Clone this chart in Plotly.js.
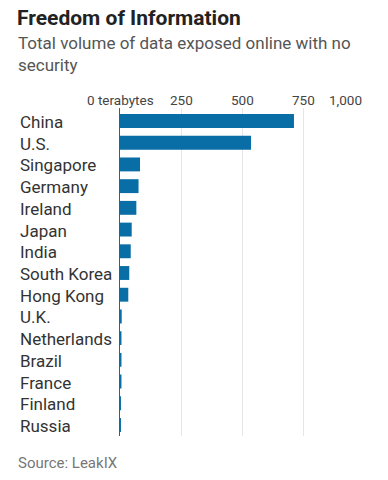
<!DOCTYPE html>
<html><head><meta charset="utf-8">
<script src="https://cdn.plot.ly/plotly-3.0.1.min.js"></script>
<style>html,body{margin:0;padding:0;background:#fff;}#chart{width:388px;height:480px;}</style>
</head><body><div id="chart"></div>
<script>
var countries = ["China","U.S.","Singapore","Germany","Ireland","Japan","India","South Korea","Hong Kong","U.K.","Netherlands","Brazil","France","Finland","Russia"];
var terabytes = [713,537,82,76,67,48,44,38,34,7,6,6,6,4,4];
var tickVals = [0,250,500,750,1000];
var tickLabels = ["0 terabytes","250","500","750","1,000"];

var FONT = "Roboto, 'Noto Sans', sans-serif";
var PW = 244, PH = 328;
function px(x){ return (x-120)/PW; }
function py(y){ return (436-y)/PH; }
var trace = {
  type: "bar", orientation: "h",
  x: terabytes, y: countries,
  marker: {color: "#0a6ea6"},
  width: 0.64,
  hoverinfo: "none"
};
var anns = countries.map(function(c){
  return {text: c, xref: "paper", x: px(18), xanchor: "left", yref: "y", y: c, yshift: -1,
          showarrow: false, font: {family: FONT, size: 17, color: "#333"}};
});
tickVals.forEach(function(v, i){
  anns.push({text: tickLabels[i], xref: "x", x: v, xanchor: i === tickVals.length-1 ? "right" : "center",
    yref: "paper", y: py(100), yanchor: "middle", showarrow: false,
    font: {family: FONT, size: 13.5, color: "#444"}});
});
anns.push({text: "Total volume of data exposed online with no<br>security", xref: "paper", yref: "paper",
  x: px(16), xanchor: "left", y: py(31), yanchor: "top", align: "left", showarrow: false,
  font: {family: FONT, size: 17, color: "#555"}});
anns.push({text: "Source: LeakIX", xref: "paper", yref: "paper", x: px(16), xanchor: "left",
  y: py(463), yanchor: "middle", showarrow: false, font: {family: FONT, size: 15, color: "#777"}});

var layout = {
  width: 388, height: 480,
  margin: {l: 120, r: 24, t: 108, b: 44},
  paper_bgcolor: "#fff", plot_bgcolor: "#fff",
  showlegend: false,
  title: {text: "<b>Freedom of Information</b>", x: 17/388, xanchor: "left", xref: "container",
          y: 1 - 18/480, yref: "container", yanchor: "middle",
          font: {family: FONT, size: 21, color: "#222"}},
  xaxis: {side: "top", range: [0, 1000], tickvals: tickVals, showticklabels: false,
          showgrid: true, gridcolor: "#e6e6e6", gridwidth: 1, zeroline: false,
          ticks: "", fixedrange: true},
  yaxis: {autorange: "reversed", showticklabels: false, ticks: "", showgrid: false,
          showline: true, linecolor: "#555", linewidth: 1.5, zeroline: false},
  annotations: anns
};
Plotly.newPlot("chart", [trace], layout, {staticPlot: true});
</script></body></html>
